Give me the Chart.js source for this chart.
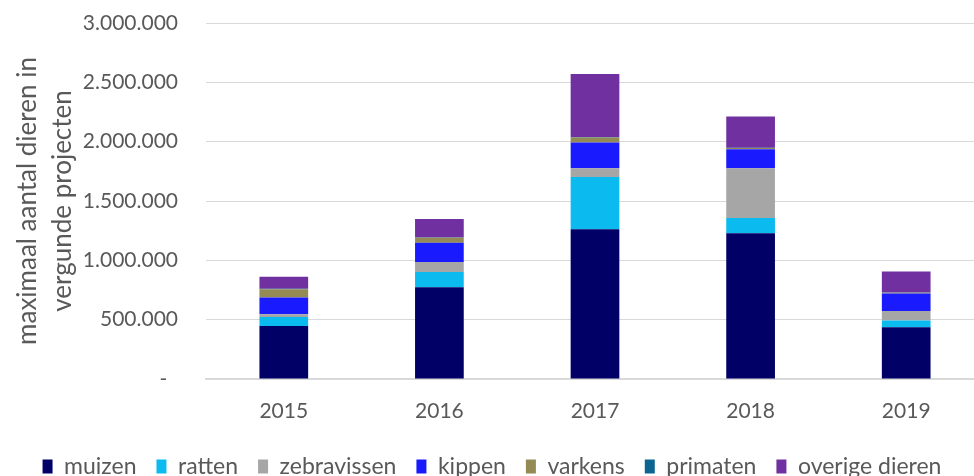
<!DOCTYPE html>
<html>
<head>
<meta charset="utf-8">
<script src="https://cdn.jsdelivr.net/npm/chart.js@4"></script>
<style>
    html, body { margin: 0; padding: 0; background: #fff; overflow: hidden; }
    #wrap { width: 990px; height: 488px; position: relative; }
</style>
</head>
<body>
<div id="wrap"><canvas id="animalsChart"></canvas></div>
<script>
// Years on the x axis
const years = ['2015', '2016', '2017', '2018', '2019'];

// Maximum number of animals per species
const muizen      = [447000,  773000, 1261000, 1228000, 436000];
const ratten      = [ 76000,  129000,  441000,  129000,  56000];
const zebravissen = [ 23000,   84000,   73000,  419000,  82000];
const kippen      = [140000,  163000,  219000,  160000, 146000];
const varkens     = [ 71000,   42000,   42000,   11000,   6000];
const primaten    = [  3000,    2000,    3000,    2000,   2000];
const overige     = [101000,  155000,  531000,  264000, 177000];

// Y axis ticks
const yTicks = [0, 500000, 1000000, 1500000, 2000000, 2500000, 3000000];

// Dutch thousands separator
const formatDots = (num) => {
    if (num === 0) return '-  ';
    return num.toString().replace(/\B(?=(\d{3})+(?!\d))/g, '.');
};

const textColor = '#595959';
const gridColor = '#d9d9d9';
const fontFamily = 'Lato, "Open Sans", sans-serif';

const ctx = document.getElementById('animalsChart').getContext('2d');

new Chart(ctx, {
    type: 'bar',
    data: {
        labels: years,
        datasets: [
            { label: 'muizen', data: muizen, backgroundColor: '#000066' },
            { label: 'ratten', data: ratten, backgroundColor: '#0bbaee' },
            { label: 'zebravissen', data: zebravissen, backgroundColor: '#a6a6a6' },
            { label: 'kippen', data: kippen, backgroundColor: '#1a1aff' },
            { label: 'varkens', data: varkens, backgroundColor: '#948a54' },
            { label: 'primaten', data: primaten, backgroundColor: '#0b6590' },
            { label: 'overige dieren', data: overige, backgroundColor: '#7030a0' }
        ]
    },
    options: {
        responsive: true,
        maintainAspectRatio: false,
        animation: false,
        datasets: {
            bar: {
                barPercentage: 0.313,
                categoryPercentage: 1.0,
                borderWidth: 0
            }
        },
        layout: {
            padding: { top: 23, left: 0, right: 6, bottom: 0 }
        },
        plugins: {
            legend: {
                position: 'bottom',
                labels: {
                    color: textColor,
                    boxWidth: 10,
                    boxHeight: 14,
                    padding: 20,
                    font: { family: fontFamily, size: 23 }
                }
            },
            tooltip: { enabled: false }
        },
        scales: {
            x: {
                stacked: true,
                grid: { display: false },
                border: { color: gridColor, width: 2 },
                ticks: {
                    color: textColor,
                    padding: 12,
                    font: { family: fontFamily, size: 21 }
                },
                afterFit: (scale) => { scale.height = 56; }
            },
            y: {
                stacked: true,
                min: 0,
                max: 3000000,
                border: { display: false },
                grid: { color: gridColor, lineWidth: 1, drawTicks: false },
                afterBuildTicks: (scale) => {
                    scale.ticks = yTicks.map(v => ({ value: v }));
                },
                ticks: {
                    color: textColor,
                    padding: 28,
                    font: { family: fontFamily, size: 21 },
                    callback: (value) => formatDots(value)
                },
                title: {
                    display: true,
                    text: ['maximaal aantal dieren in', 'vergunde projecten'],
                    color: textColor,
                    padding: { top: 10, bottom: 0 },
                    font: { family: fontFamily, size: 26, lineHeight: 1.35 }
                },
                afterFit: (scale) => {
                    scale.width = 206;
                    scale.paddingTop = 0;
                    scale.paddingBottom = 0;
                }
            }
        }
    }
});
</script>
</body>
</html>
